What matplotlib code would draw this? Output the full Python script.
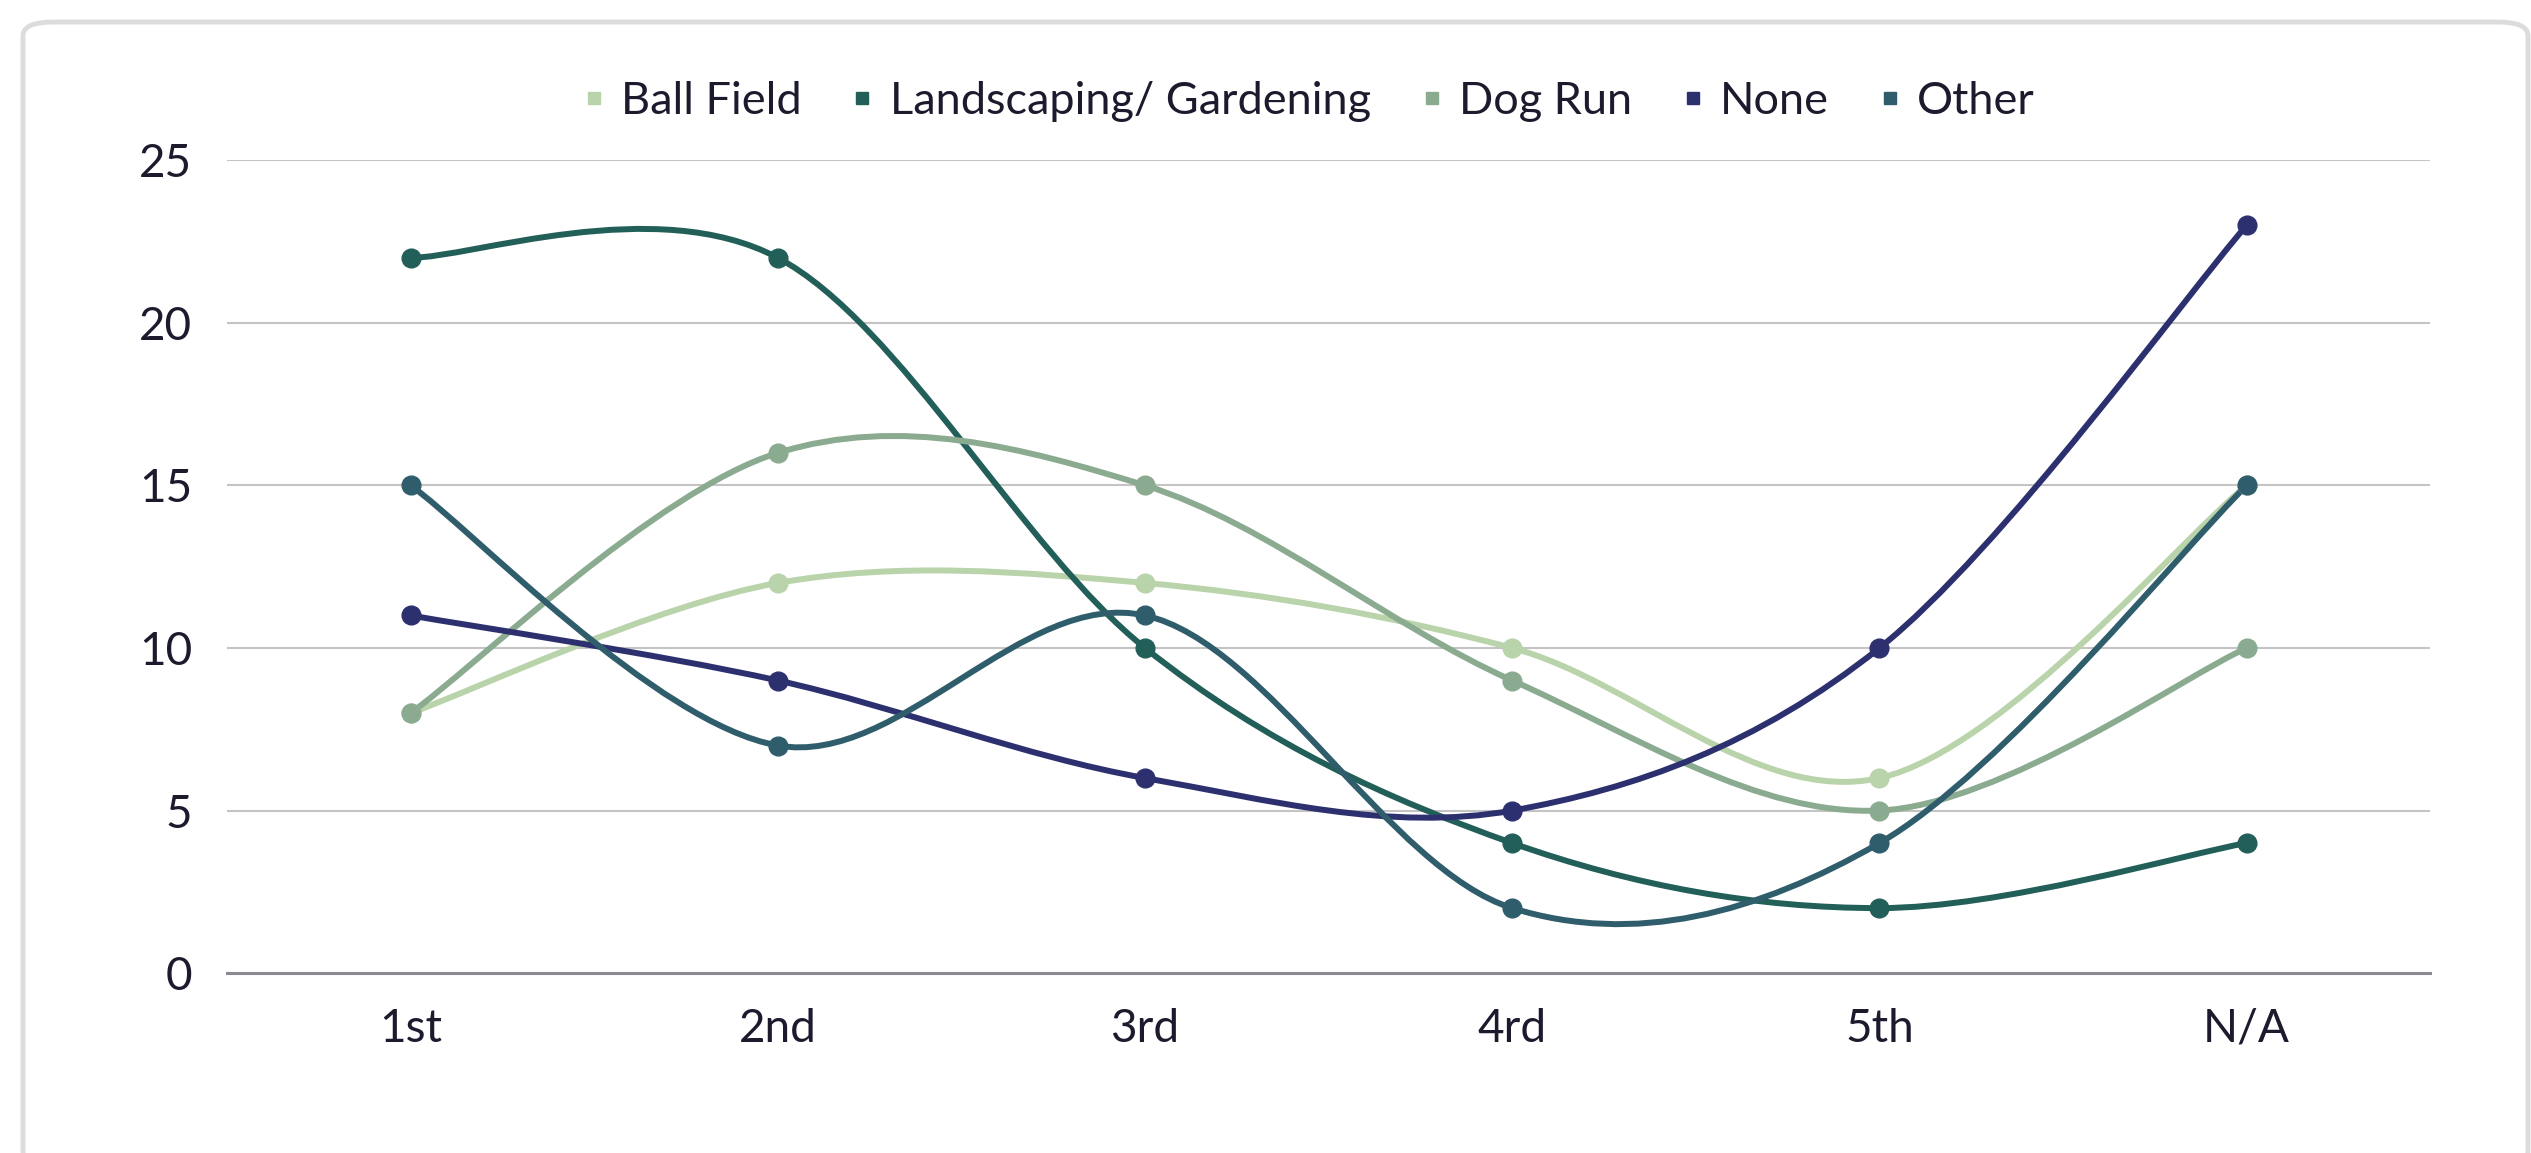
import matplotlib

matplotlib.use("Agg")
import matplotlib.pyplot as plt
import numpy as np
from matplotlib.lines import Line2D
from matplotlib.patches import FancyBboxPatch, PathPatch
from matplotlib.path import Path

CATEGORIES = ["1st", "2nd", "3rd", "4rd", "5th", "N/A"]
BALL_FIELD = [8, 12, 12, 10, 6, 15]
LANDSCAPING = [22, 22, 10, 4, 2, 4]
DOG_RUN = [8, 16, 15, 9, 5, 10]
NONE = [11, 9, 6, 5, 10, 23]
OTHER = [15, 7, 11, 2, 4, 15]

SERIES = [
    ("Ball Field", BALL_FIELD, "#b9d3aa"),
    ("Landscaping/ Gardening", LANDSCAPING, "#235f59"),
    ("Dog Run", DOG_RUN, "#8aab90"),
    ("None", NONE, "#2d306f"),
    ("Other", OTHER, "#2f5d6c"),
]

TEXT = "#1c1b2e"
plt.rcParams["font.family"] = ["Lato", "DejaVu Sans"]


def smooth_path(xs, ys):
    # Excel-style smoothed line: Catmull-Rom as cubic Bezier segments
    pts = np.column_stack([xs, ys]).astype(float)
    n = len(pts)
    verts = [pts[0]]
    codes = [Path.MOVETO]
    for i in range(n - 1):
        p0 = pts[max(i - 1, 0)]
        p1 = pts[i]
        p2 = pts[i + 1]
        p3 = pts[min(i + 2, n - 1)]
        c1 = p1 + (p2 - p0) / 6
        c2 = p2 - (p3 - p1) / 6
        verts += [c1, c2, p2]
        codes += [Path.CURVE4] * 3
    return Path(verts, codes)


fig = plt.figure(figsize=(25.31, 11.53), dpi=100)
fig.patch.set_facecolor("white")

# rounded card border (bottom edge runs off the image)
fig.patches.append(FancyBboxPatch(
    (23 / 2531, -12 / 1153), 2505 / 2531, 1143 / 1153,
    boxstyle="round,pad=0,rounding_size=0.012",
    transform=fig.transFigure, facecolor="none",
    edgecolor="#dcdcdc", linewidth=3.5, zorder=0))

ax = fig.add_axes([0.0897, 0.156, 0.8705, 0.705])
x = np.arange(len(CATEGORIES))

for name, vals, color in SERIES:
    ax.add_patch(PathPatch(smooth_path(x, vals), facecolor="none",
                           edgecolor=color, linewidth=4.3, capstyle="round",
                           zorder=3))
    ax.plot(x, vals, linestyle="none", marker="o", markersize=13.5,
            color=color, zorder=4)

ax.set_xlim(-0.5, len(CATEGORIES) - 0.5)
ax.set_ylim(0, 25)
ax.set_yticks(range(0, 26, 5))
ax.set_xticks(x)
ax.set_xticklabels(CATEGORIES)
ax.grid(axis="y", color="#c4c4c4", linewidth=1.5, zorder=1)
ax.set_axisbelow(True)
for side in ["top", "right", "left"]:
    ax.spines[side].set_visible(False)
ax.spines["bottom"].set_color("#8a8a92")
ax.spines["bottom"].set_linewidth(2.2)
ax.spines["bottom"].set_zorder(2)
ax.tick_params(axis="both", length=0, labelsize=33, colors=TEXT)
ax.tick_params(axis="x", pad=25)
ax.tick_params(axis="y", pad=25)

handles = [Line2D([], [], linestyle="none", marker="s", markersize=9,
                  color=c, label=n) for n, _, c in SERIES]
fig.legend(handles=handles, loc="center", bbox_to_anchor=(0.517, 0.912),
           ncol=5, frameon=False, fontsize=32.5, labelcolor=TEXT,
           handlelength=0.5, handletextpad=0.35, columnspacing=1.1)

fig.savefig("out.png", dpi=100)
